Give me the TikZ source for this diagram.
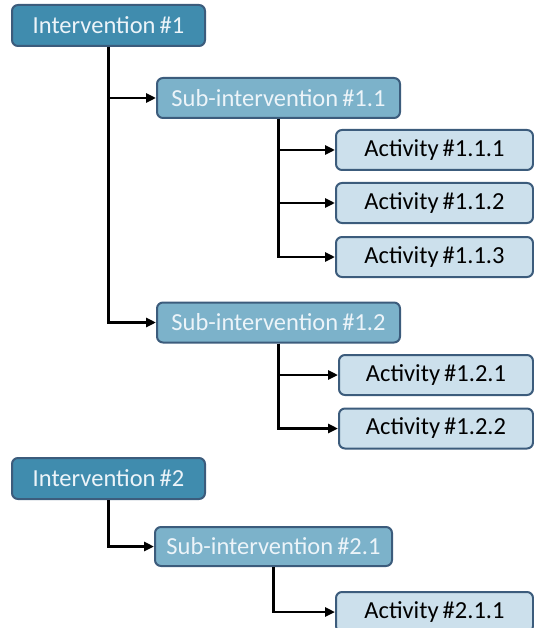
\documentclass[tikz,border=0pt]{standalone}
\usepackage{fontspec}
\setmainfont{Carlito}
\usetikzlibrary{arrows.meta}
\definecolor{intfill}{RGB}{64,140,174}
\definecolor{subfill}{RGB}{124,178,202}
\definecolor{actfill}{RGB}{204,224,236}
\definecolor{boxline}{RGB}{60,92,124}
\definecolor{lighttext}{RGB}{236,244,249}
\tikzset{
  basebox/.style={draw=boxline, line width=2pt, rounded corners=6pt, inner sep=0pt,
    font=\fontsize{24.5}{27}\selectfont},
  intbox/.style={basebox, fill=intfill, text=lighttext, minimum width=193pt, minimum height=41pt},
  subbox/.style={basebox, fill=subfill, text=lighttext, minimum width=243pt, minimum height=40pt},
  actbox/.style={basebox, fill=actfill, text=black, minimum width=197pt, minimum height=40pt},
  conn/.style={line width=2.8pt, -{Triangle[length=10pt,width=9pt]}, black}
}
\begin{document}
\begin{tikzpicture}[x=1pt,y=-1pt]
\useasboundingbox (0,0) rectangle (534,628);
\node[intbox] (I1) at (108.5,25.5) {Intervention\,\#1};
\node[subbox] (S11) at (278.5,98) {Sub-intervention\,\#1.1};
\node[actbox] (A111) at (434.5,150) {Activity\,\#1.1.1};
\node[actbox] (A112) at (434.5,203) {Activity\,\#1.1.2};
\node[actbox] (A113) at (434.5,257) {Activity\,\#1.1.3};
\node[subbox] (S12) at (278.5,322.5) {Sub-intervention\,\#1.2};
\node[actbox, minimum width=194pt] (A121) at (436,375) {Activity\,\#1.2.1};
\node[actbox, minimum width=194pt] (A122) at (436,428.5) {Activity\,\#1.2.2};
\node[intbox] (I2) at (108.5,478.5) {Intervention\,\#2};
\node[subbox, minimum width=237pt, minimum height=39pt] (S21) at (273.5,546.5) {Sub-intervention\,\#2.1};
\node[actbox] (A211) at (434.5,612) {Activity\,\#2.1.1};

\draw[conn] (I1.south) |- (S11.west);
\draw[conn] (I1.south) |- (S12.west);
\draw[conn] (S11.south) |- (A111.west);
\draw[conn] (S11.south) |- (A112.west);
\draw[conn] (S11.south) |- (A113.west);
\draw[conn] (S12.south) |- (A121.west);
\draw[conn] (S12.south) |- (A122.west);
\draw[conn] (I2.south) |- (S21.west);
\draw[conn] (S21.south) |- (A211.west);
\end{tikzpicture}
\end{document}
